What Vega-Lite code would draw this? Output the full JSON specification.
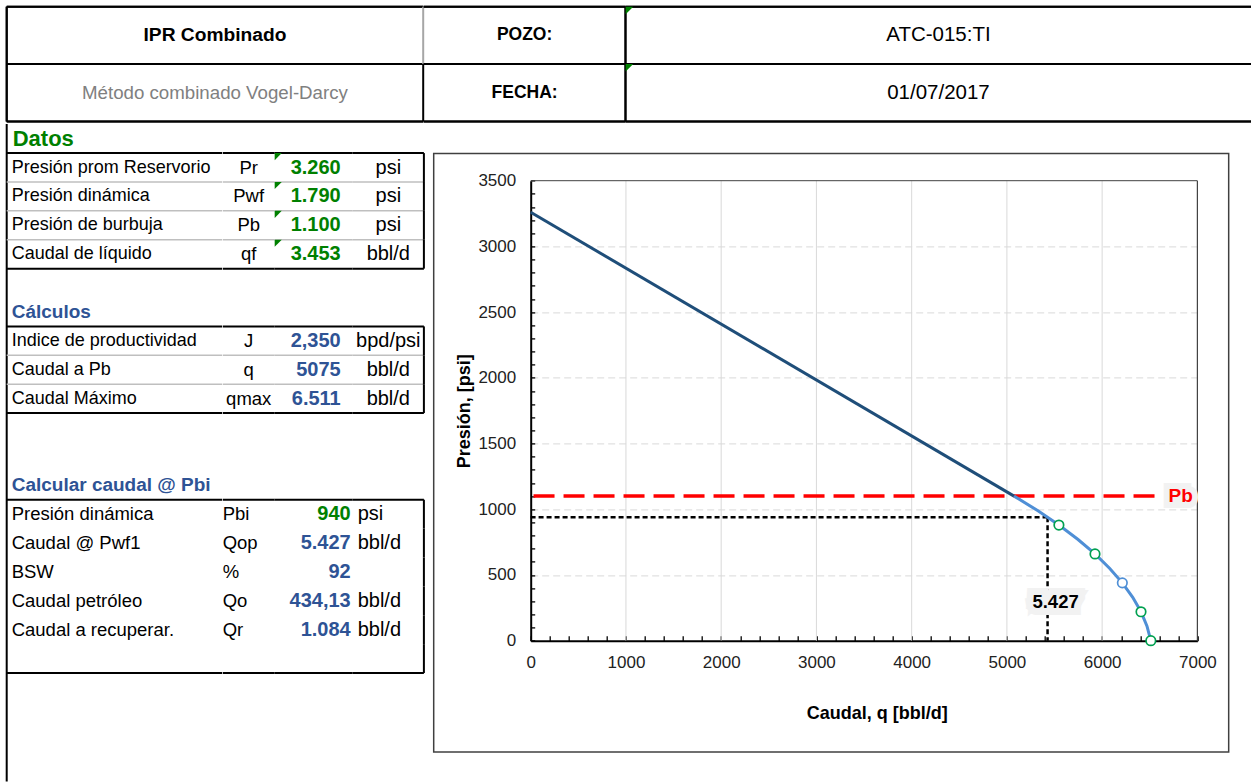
{
  "$schema": "https://vega.github.io/schema/vega-lite/v6.json",
  "padding": {"left": 5.7, "top": 5.7, "right": 0, "bottom": 0},
  "background": "white",
  "config": {"font": "Liberation Sans", "view": {"stroke": null}, "axis": {"labelOverlap": false}},
  "datasets": {
    "titulos": [
      {"fila": 1, "t": "Datos"},
      {"fila": 7, "t": "Cálculos"},
      {"fila": 13, "t": "Calcular caudal @ Pbi"}
    ],
    "datos": [
      {"fila": 2, "param": "Presión prom Reservorio", "sim": "Pr", "valor": "3.260", "unidad": "psi"},
      {"fila": 3, "param": "Presión dinámica", "sim": "Pwf", "valor": "1.790", "unidad": "psi"},
      {"fila": 4, "param": "Presión de burbuja", "sim": "Pb", "valor": "1.100", "unidad": "psi"},
      {"fila": 5, "param": "Caudal de líquido", "sim": "qf", "valor": "3.453", "unidad": "bbl/d"}
    ],
    "calculos": [
      {"fila": 8, "param": "Indice de productividad", "sim": "J", "valor": "2,350", "unidad": "bpd/psi"},
      {"fila": 9, "param": "Caudal a Pb", "sim": "q", "valor": "5075", "unidad": "bbl/d"},
      {"fila": 10, "param": "Caudal Máximo", "sim": "qmax", "valor": "6.511", "unidad": "bbl/d"}
    ],
    "pbi": [
      {"fila": 14, "param": "Presión dinámica", "sim": "Pbi", "valor": "940", "unidad": "psi", "tipo": "entrada"},
      {"fila": 15, "param": "Caudal @ Pwf1", "sim": "Qop", "valor": "5.427", "unidad": "bbl/d", "tipo": "resultado"},
      {"fila": 16, "param": "BSW", "sim": "%", "valor": "92", "unidad": "", "tipo": "resultado"},
      {"fila": 17, "param": "Caudal petróleo", "sim": "Qo", "valor": "434,13", "unidad": "bbl/d", "tipo": "resultado"},
      {"fila": 18, "param": "Caudal a recuperar.", "sim": "Qr", "valor": "1.084", "unidad": "bbl/d", "tipo": "resultado"},
      {"fila": 19, "param": "", "sim": "", "valor": "", "unidad": "", "tipo": ""}
    ],
    "ipr": [
      {"q": 0, "p": 3260, "tramo": "Darcy"},
      {"q": 5075, "p": 1100, "tramo": "Darcy"},
      {"q": 5075, "p": 1100, "tramo": "Vogel"},
      {"q": 5322, "p": 990, "tramo": "Vogel"},
      {"q": 5546, "p": 880, "tramo": "Vogel"},
      {"q": 5747, "p": 770, "tramo": "Vogel"},
      {"q": 5925, "p": 660, "tramo": "Vogel"},
      {"q": 6080, "p": 550, "tramo": "Vogel"},
      {"q": 6212, "p": 440, "tramo": "Vogel"},
      {"q": 6321, "p": 330, "tramo": "Vogel"},
      {"q": 6408, "p": 220, "tramo": "Vogel"},
      {"q": 6471, "p": 110, "tramo": "Vogel"},
      {"q": 6511, "p": 0, "tramo": "Vogel"}
    ],
    "puntos": [
      {"q": 5546, "p": 880, "serie": "Vogel"},
      {"q": 5925, "p": 660, "serie": "Vogel"},
      {"q": 6212, "p": 440, "serie": "Referencia"},
      {"q": 6408, "p": 220, "serie": "Vogel"},
      {"q": 6511, "p": 0, "serie": "Vogel"}
    ],
    "grid_q": [
      {"q": 1000, "p": 0, "p2": 3500},
      {"q": 2000, "p": 0, "p2": 3500},
      {"q": 3000, "p": 0, "p2": 3500},
      {"q": 4000, "p": 0, "p2": 3500},
      {"q": 5000, "p": 0, "p2": 3500},
      {"q": 6000, "p": 0, "p2": 3500}
    ],
    "marco_sup": [{"q": 0, "q2": 7000, "p": 3500}],
    "marco_der": [{"q": 7000, "p": 0, "p2": 3500}],
    "pb": [{"q": 6550, "q2": 0, "p": 1100, "etiqueta": "Pb"}],
    "op": [{"q": 5427, "q0": 0, "p": 940, "p0": 0, "etiqueta": "5.427"}]
  },
  "spacing": 0,
  "vconcat": [
    {
      "spacing": 0,
      "bounds": "flush",
      "hconcat": [
        {
          "width": 416.5, "height": 114.8,
          "data": {"values": [{"fila": "r1", "t": "IPR Combinado"}, {"fila": "r2", "t": "Método combinado Vogel-Darcy"}]},
          "layer": [
            {"mark": {"type": "rule", "color": "black", "strokeWidth": 2}, "encoding": {"y": {"datum": "r1", "type": "nominal", "bandPosition": 0, "scale": {"type": "band", "domain": ["r1", "r2"], "paddingInner": 0, "paddingOuter": 0}, "axis": null}}},
            {"mark": {"type": "rule", "color": "black", "strokeWidth": 2}, "encoding": {"y": {"datum": "r2", "type": "nominal", "bandPosition": 0, "scale": {"type": "band", "domain": ["r1", "r2"], "paddingInner": 0, "paddingOuter": 0}, "axis": null}}},
            {"mark": {"type": "rule", "color": "black", "strokeWidth": 2}, "encoding": {"y": {"datum": "r2", "type": "nominal", "bandPosition": 1, "scale": {"type": "band", "domain": ["r1", "r2"], "paddingInner": 0, "paddingOuter": 0}, "axis": null}}},
            {"mark": {"type": "rule", "color": "black", "strokeWidth": 2}, "encoding": {"x": {"datum": "L", "type": "nominal", "scale": {"type": "point", "domain": ["L", "R"], "padding": 0}, "axis": null}}},
            {"mark": {"type": "rule", "strokeWidth": 2}, "encoding": {
              "x": {"datum": "R", "type": "nominal", "scale": {"type": "point", "domain": ["L", "R"], "padding": 0}, "axis": null},
              "y": {"field": "fila", "type": "nominal", "bandPosition": 0, "scale": {"type": "band", "domain": ["r1", "r2"], "paddingInner": 0, "paddingOuter": 0}, "axis": null},
              "y2": {"field": "fila", "bandPosition": 1},
              "color": {"condition": {"test": "datum.fila === 'r1'", "value": "#A6A6A6"}, "value": "black"}
            }},
            {"transform": [{"filter": "datum.fila === 'r1'"}], "mark": {"type": "text", "fontSize": 19.2, "fontWeight": "bold", "color": "black"}, "encoding": {"y": {"field": "fila", "type": "nominal", "scale": {"type": "band", "domain": ["r1", "r2"], "paddingInner": 0, "paddingOuter": 0}, "axis": null}, "text": {"field": "t", "type": "nominal"}}},
            {"transform": [{"filter": "datum.fila === 'r2'"}], "mark": {"type": "text", "fontSize": 18.7, "color": "#808080"}, "encoding": {"y": {"field": "fila", "type": "nominal", "scale": {"type": "band", "domain": ["r1", "r2"], "paddingInner": 0, "paddingOuter": 0}, "axis": null}, "text": {"field": "t", "type": "nominal"}}}
          ]
        },
        {
          "width": 201.8, "height": 114.8,
          "data": {"values": [{"fila": "r1", "t": "POZO:"}, {"fila": "r2", "t": "FECHA:"}]},
          "layer": [
            {"mark": {"type": "rule", "color": "black", "strokeWidth": 2}, "encoding": {"y": {"datum": "r1", "type": "nominal", "bandPosition": 0, "scale": {"type": "band", "domain": ["r1", "r2"], "paddingInner": 0, "paddingOuter": 0}, "axis": null}}},
            {"mark": {"type": "rule", "color": "black", "strokeWidth": 2}, "encoding": {"y": {"datum": "r2", "type": "nominal", "bandPosition": 0, "scale": {"type": "band", "domain": ["r1", "r2"], "paddingInner": 0, "paddingOuter": 0}, "axis": null}}},
            {"mark": {"type": "rule", "color": "black", "strokeWidth": 2}, "encoding": {"y": {"datum": "r2", "type": "nominal", "bandPosition": 1, "scale": {"type": "band", "domain": ["r1", "r2"], "paddingInner": 0, "paddingOuter": 0}, "axis": null}}},
            {"mark": {"type": "rule", "color": "black", "strokeWidth": 2}, "encoding": {"x": {"datum": "R", "type": "nominal", "scale": {"type": "point", "domain": ["L", "R"], "padding": 0}, "axis": null}}},
            {"mark": {"type": "text", "fontSize": 17.5, "fontWeight": "bold", "color": "black"}, "encoding": {"y": {"field": "fila", "type": "nominal", "scale": {"type": "band", "domain": ["r1", "r2"], "paddingInner": 0, "paddingOuter": 0}, "axis": null}, "text": {"field": "t", "type": "nominal"}}}
          ]
        },
        {
          "width": 625.5, "height": 114.8,
          "data": {"values": [{"fila": "r1", "t": "ATC-015:TI"}, {"fila": "r2", "t": "01/07/2017"}]},
          "layer": [
            {"mark": {"type": "rule", "color": "black", "strokeWidth": 2}, "encoding": {"y": {"datum": "r1", "type": "nominal", "bandPosition": 0, "scale": {"type": "band", "domain": ["r1", "r2"], "paddingInner": 0, "paddingOuter": 0}, "axis": null}}},
            {"mark": {"type": "rule", "color": "black", "strokeWidth": 2}, "encoding": {"y": {"datum": "r2", "type": "nominal", "bandPosition": 0, "scale": {"type": "band", "domain": ["r1", "r2"], "paddingInner": 0, "paddingOuter": 0}, "axis": null}}},
            {"mark": {"type": "rule", "color": "black", "strokeWidth": 2}, "encoding": {"y": {"datum": "r2", "type": "nominal", "bandPosition": 1, "scale": {"type": "band", "domain": ["r1", "r2"], "paddingInner": 0, "paddingOuter": 0}, "axis": null}}},
            {"mark": {"type": "point", "shape": "M0,0L1,0L0,1Z", "size": 225, "filled": true, "color": "#008000", "opacity": 1, "strokeWidth": 0}, "encoding": {"x": {"datum": "L", "type": "nominal", "scale": {"type": "point", "domain": ["L", "R"], "padding": 0}, "axis": null}, "y": {"field": "fila", "type": "nominal", "bandPosition": 0, "scale": {"type": "band", "domain": ["r1", "r2"], "paddingInner": 0, "paddingOuter": 0}, "axis": null}}},
            {"mark": {"type": "text", "fontSize": 20.5, "color": "black"}, "encoding": {"y": {"field": "fila", "type": "nominal", "scale": {"type": "band", "domain": ["r1", "r2"], "paddingInner": 0, "paddingOuter": 0}, "axis": null}, "text": {"field": "t", "type": "nominal"}}}
          ]
        }
      ]
    },
    {
      "spacing": 0,
      "bounds": "flush",
      "center": true,
      "hconcat": [
        {
          "width": 215.3, "height": 657.6,
          "data": {"values": [{}]},
          "layer": [
            {"mark": {"type": "rule", "color": "black", "strokeWidth": 2}, "encoding": {"x": {"datum": "L", "type": "nominal", "scale": {"type": "point", "domain": ["L", "R"], "padding": 0}, "axis": null}}},
            {"data": {"name": "datos"}, "transform": [{"filter": "datum.fila > 2"}], "mark": {"type": "rule", "color": "#BFBFBF", "strokeWidth": 1.5}, "encoding": {"y": {"field": "fila", "type": "ordinal", "bandPosition": 0, "scale": {"type": "band", "domain": [1, 2, 3, 4, 5, 6, 7, 8, 9, 10, 11, 12, 13, 14, 15, 16, 17, 18, 19, 20, 21, 22, 23], "range": [0.3, 664.7], "paddingInner": 0, "paddingOuter": 0}, "axis": null}}},
            {"data": {"name": "calculos"}, "transform": [{"filter": "datum.fila > 8"}], "mark": {"type": "rule", "color": "#BFBFBF", "strokeWidth": 1.5}, "encoding": {"y": {"field": "fila", "type": "ordinal", "bandPosition": 0, "scale": {"type": "band", "domain": [1, 2, 3, 4, 5, 6, 7, 8, 9, 10, 11, 12, 13, 14, 15, 16, 17, 18, 19, 20, 21, 22, 23], "range": [0.3, 664.7], "paddingInner": 0, "paddingOuter": 0}, "axis": null}}},
            {"mark": {"type": "rule", "color": "black", "strokeWidth": 2}, "encoding": {"y": {"datum": 2, "type": "ordinal", "bandPosition": 0, "scale": {"type": "band", "domain": [1, 2, 3, 4, 5, 6, 7, 8, 9, 10, 11, 12, 13, 14, 15, 16, 17, 18, 19, 20, 21, 22, 23], "range": [0.3, 664.7], "paddingInner": 0, "paddingOuter": 0}, "axis": null}}},
            {"mark": {"type": "rule", "color": "black", "strokeWidth": 2}, "encoding": {"y": {"datum": 5, "type": "ordinal", "bandPosition": 1, "scale": {"type": "band", "domain": [1, 2, 3, 4, 5, 6, 7, 8, 9, 10, 11, 12, 13, 14, 15, 16, 17, 18, 19, 20, 21, 22, 23], "range": [0.3, 664.7], "paddingInner": 0, "paddingOuter": 0}, "axis": null}}},
            {"mark": {"type": "rule", "color": "black", "strokeWidth": 2}, "encoding": {"y": {"datum": 8, "type": "ordinal", "bandPosition": 0, "scale": {"type": "band", "domain": [1, 2, 3, 4, 5, 6, 7, 8, 9, 10, 11, 12, 13, 14, 15, 16, 17, 18, 19, 20, 21, 22, 23], "range": [0.3, 664.7], "paddingInner": 0, "paddingOuter": 0}, "axis": null}}},
            {"mark": {"type": "rule", "color": "black", "strokeWidth": 2}, "encoding": {"y": {"datum": 10, "type": "ordinal", "bandPosition": 1, "scale": {"type": "band", "domain": [1, 2, 3, 4, 5, 6, 7, 8, 9, 10, 11, 12, 13, 14, 15, 16, 17, 18, 19, 20, 21, 22, 23], "range": [0.3, 664.7], "paddingInner": 0, "paddingOuter": 0}, "axis": null}}},
            {"mark": {"type": "rule", "color": "black", "strokeWidth": 2}, "encoding": {"y": {"datum": 14, "type": "ordinal", "bandPosition": 0, "scale": {"type": "band", "domain": [1, 2, 3, 4, 5, 6, 7, 8, 9, 10, 11, 12, 13, 14, 15, 16, 17, 18, 19, 20, 21, 22, 23], "range": [0.3, 664.7], "paddingInner": 0, "paddingOuter": 0}, "axis": null}}},
            {"mark": {"type": "rule", "color": "black", "strokeWidth": 2}, "encoding": {"y": {"datum": 19, "type": "ordinal", "bandPosition": 1, "scale": {"type": "band", "domain": [1, 2, 3, 4, 5, 6, 7, 8, 9, 10, 11, 12, 13, 14, 15, 16, 17, 18, 19, 20, 21, 22, 23], "range": [0.3, 664.7], "paddingInner": 0, "paddingOuter": 0}, "axis": null}}},
            {"data": {"name": "titulos"}, "transform": [{"filter": "datum.fila === 1"}], "mark": {"type": "text", "align": "left", "dx": 6, "fontSize": 22, "fontWeight": "bold", "color": "#008000"}, "encoding": {"x": {"datum": "L", "type": "nominal", "scale": {"type": "point", "domain": ["L", "R"], "padding": 0}, "axis": null}, "y": {"field": "fila", "type": "ordinal", "scale": {"type": "band", "domain": [1, 2, 3, 4, 5, 6, 7, 8, 9, 10, 11, 12, 13, 14, 15, 16, 17, 18, 19, 20, 21, 22, 23], "range": [0.3, 664.7], "paddingInner": 0, "paddingOuter": 0}, "axis": null}, "text": {"field": "t", "type": "nominal"}}},
            {"data": {"name": "titulos"}, "transform": [{"filter": "datum.fila > 1"}], "mark": {"type": "text", "align": "left", "dx": 5, "fontSize": 19, "fontWeight": "bold", "color": "#2E5395"}, "encoding": {"x": {"datum": "L", "type": "nominal", "scale": {"type": "point", "domain": ["L", "R"], "padding": 0}, "axis": null}, "y": {"field": "fila", "type": "ordinal", "scale": {"type": "band", "domain": [1, 2, 3, 4, 5, 6, 7, 8, 9, 10, 11, 12, 13, 14, 15, 16, 17, 18, 19, 20, 21, 22, 23], "range": [0.3, 664.7], "paddingInner": 0, "paddingOuter": 0}, "axis": null}, "text": {"field": "t", "type": "nominal"}}},
            {"data": {"name": "datos"}, "mark": {"type": "text", "align": "left", "dx": 5, "fontSize": 18, "color": "black"}, "encoding": {"x": {"datum": "L", "type": "nominal", "scale": {"type": "point", "domain": ["L", "R"], "padding": 0}, "axis": null}, "y": {"field": "fila", "type": "ordinal", "scale": {"type": "band", "domain": [1, 2, 3, 4, 5, 6, 7, 8, 9, 10, 11, 12, 13, 14, 15, 16, 17, 18, 19, 20, 21, 22, 23], "range": [0.3, 664.7], "paddingInner": 0, "paddingOuter": 0}, "axis": null}, "text": {"field": "param", "type": "nominal"}}},
            {"data": {"name": "calculos"}, "mark": {"type": "text", "align": "left", "dx": 5, "fontSize": 18, "color": "black"}, "encoding": {"x": {"datum": "L", "type": "nominal", "scale": {"type": "point", "domain": ["L", "R"], "padding": 0}, "axis": null}, "y": {"field": "fila", "type": "ordinal", "scale": {"type": "band", "domain": [1, 2, 3, 4, 5, 6, 7, 8, 9, 10, 11, 12, 13, 14, 15, 16, 17, 18, 19, 20, 21, 22, 23], "range": [0.3, 664.7], "paddingInner": 0, "paddingOuter": 0}, "axis": null}, "text": {"field": "param", "type": "nominal"}}},
            {"data": {"name": "pbi"}, "mark": {"type": "text", "align": "left", "dx": 5, "fontSize": 18.5, "color": "black"}, "encoding": {"x": {"datum": "L", "type": "nominal", "scale": {"type": "point", "domain": ["L", "R"], "padding": 0}, "axis": null}, "y": {"field": "fila", "type": "ordinal", "scale": {"type": "band", "domain": [1, 2, 3, 4, 5, 6, 7, 8, 9, 10, 11, 12, 13, 14, 15, 16, 17, 18, 19, 20, 21, 22, 23], "range": [0.3, 664.7], "paddingInner": 0, "paddingOuter": 0}, "axis": null}, "text": {"field": "param", "type": "nominal"}}}
          ]
        },
        {
          "width": 52, "height": 657.6,
          "data": {"values": [{}]},
          "layer": [
            {"data": {"name": "datos"}, "transform": [{"filter": "datum.fila > 2"}], "mark": {"type": "rule", "color": "#BFBFBF", "strokeWidth": 1.5}, "encoding": {"y": {"field": "fila", "type": "ordinal", "bandPosition": 0, "scale": {"type": "band", "domain": [1, 2, 3, 4, 5, 6, 7, 8, 9, 10, 11, 12, 13, 14, 15, 16, 17, 18, 19, 20, 21, 22, 23], "range": [0.3, 664.7], "paddingInner": 0, "paddingOuter": 0}, "axis": null}}},
            {"data": {"name": "calculos"}, "transform": [{"filter": "datum.fila > 8"}], "mark": {"type": "rule", "color": "#BFBFBF", "strokeWidth": 1.5}, "encoding": {"y": {"field": "fila", "type": "ordinal", "bandPosition": 0, "scale": {"type": "band", "domain": [1, 2, 3, 4, 5, 6, 7, 8, 9, 10, 11, 12, 13, 14, 15, 16, 17, 18, 19, 20, 21, 22, 23], "range": [0.3, 664.7], "paddingInner": 0, "paddingOuter": 0}, "axis": null}}},
            {"mark": {"type": "rule", "color": "black", "strokeWidth": 2}, "encoding": {"y": {"datum": 2, "type": "ordinal", "bandPosition": 0, "scale": {"type": "band", "domain": [1, 2, 3, 4, 5, 6, 7, 8, 9, 10, 11, 12, 13, 14, 15, 16, 17, 18, 19, 20, 21, 22, 23], "range": [0.3, 664.7], "paddingInner": 0, "paddingOuter": 0}, "axis": null}}},
            {"mark": {"type": "rule", "color": "black", "strokeWidth": 2}, "encoding": {"y": {"datum": 5, "type": "ordinal", "bandPosition": 1, "scale": {"type": "band", "domain": [1, 2, 3, 4, 5, 6, 7, 8, 9, 10, 11, 12, 13, 14, 15, 16, 17, 18, 19, 20, 21, 22, 23], "range": [0.3, 664.7], "paddingInner": 0, "paddingOuter": 0}, "axis": null}}},
            {"mark": {"type": "rule", "color": "black", "strokeWidth": 2}, "encoding": {"y": {"datum": 8, "type": "ordinal", "bandPosition": 0, "scale": {"type": "band", "domain": [1, 2, 3, 4, 5, 6, 7, 8, 9, 10, 11, 12, 13, 14, 15, 16, 17, 18, 19, 20, 21, 22, 23], "range": [0.3, 664.7], "paddingInner": 0, "paddingOuter": 0}, "axis": null}}},
            {"mark": {"type": "rule", "color": "black", "strokeWidth": 2}, "encoding": {"y": {"datum": 10, "type": "ordinal", "bandPosition": 1, "scale": {"type": "band", "domain": [1, 2, 3, 4, 5, 6, 7, 8, 9, 10, 11, 12, 13, 14, 15, 16, 17, 18, 19, 20, 21, 22, 23], "range": [0.3, 664.7], "paddingInner": 0, "paddingOuter": 0}, "axis": null}}},
            {"mark": {"type": "rule", "color": "black", "strokeWidth": 2}, "encoding": {"y": {"datum": 14, "type": "ordinal", "bandPosition": 0, "scale": {"type": "band", "domain": [1, 2, 3, 4, 5, 6, 7, 8, 9, 10, 11, 12, 13, 14, 15, 16, 17, 18, 19, 20, 21, 22, 23], "range": [0.3, 664.7], "paddingInner": 0, "paddingOuter": 0}, "axis": null}}},
            {"mark": {"type": "rule", "color": "black", "strokeWidth": 2}, "encoding": {"y": {"datum": 19, "type": "ordinal", "bandPosition": 1, "scale": {"type": "band", "domain": [1, 2, 3, 4, 5, 6, 7, 8, 9, 10, 11, 12, 13, 14, 15, 16, 17, 18, 19, 20, 21, 22, 23], "range": [0.3, 664.7], "paddingInner": 0, "paddingOuter": 0}, "axis": null}}},
            {"data": {"name": "datos"}, "mark": {"type": "text", "fontSize": 18.5, "color": "black"}, "encoding": {"y": {"field": "fila", "type": "ordinal", "scale": {"type": "band", "domain": [1, 2, 3, 4, 5, 6, 7, 8, 9, 10, 11, 12, 13, 14, 15, 16, 17, 18, 19, 20, 21, 22, 23], "range": [0.3, 664.7], "paddingInner": 0, "paddingOuter": 0}, "axis": null}, "text": {"field": "sim", "type": "nominal"}}},
            {"data": {"name": "calculos"}, "mark": {"type": "text", "fontSize": 18.5, "color": "black"}, "encoding": {"y": {"field": "fila", "type": "ordinal", "scale": {"type": "band", "domain": [1, 2, 3, 4, 5, 6, 7, 8, 9, 10, 11, 12, 13, 14, 15, 16, 17, 18, 19, 20, 21, 22, 23], "range": [0.3, 664.7], "paddingInner": 0, "paddingOuter": 0}, "axis": null}, "text": {"field": "sim", "type": "nominal"}}},
            {"data": {"name": "pbi"}, "mark": {"type": "text", "align": "left", "fontSize": 18.5, "color": "black"}, "encoding": {"x": {"datum": "L", "type": "nominal", "scale": {"type": "point", "domain": ["L", "R"], "padding": 0}, "axis": null}, "y": {"field": "fila", "type": "ordinal", "scale": {"type": "band", "domain": [1, 2, 3, 4, 5, 6, 7, 8, 9, 10, 11, 12, 13, 14, 15, 16, 17, 18, 19, 20, 21, 22, 23], "range": [0.3, 664.7], "paddingInner": 0, "paddingOuter": 0}, "axis": null}, "text": {"field": "sim", "type": "nominal"}}}
          ]
        },
        {
          "width": 78, "height": 657.6,
          "data": {"values": [{}]},
          "layer": [
            {"data": {"name": "datos"}, "transform": [{"filter": "datum.fila > 2"}], "mark": {"type": "rule", "color": "#BFBFBF", "strokeWidth": 1.5}, "encoding": {"y": {"field": "fila", "type": "ordinal", "bandPosition": 0, "scale": {"type": "band", "domain": [1, 2, 3, 4, 5, 6, 7, 8, 9, 10, 11, 12, 13, 14, 15, 16, 17, 18, 19, 20, 21, 22, 23], "range": [0.3, 664.7], "paddingInner": 0, "paddingOuter": 0}, "axis": null}}},
            {"data": {"name": "calculos"}, "transform": [{"filter": "datum.fila > 8"}], "mark": {"type": "rule", "color": "#BFBFBF", "strokeWidth": 1.5}, "encoding": {"y": {"field": "fila", "type": "ordinal", "bandPosition": 0, "scale": {"type": "band", "domain": [1, 2, 3, 4, 5, 6, 7, 8, 9, 10, 11, 12, 13, 14, 15, 16, 17, 18, 19, 20, 21, 22, 23], "range": [0.3, 664.7], "paddingInner": 0, "paddingOuter": 0}, "axis": null}}},
            {"mark": {"type": "rule", "color": "black", "strokeWidth": 2}, "encoding": {"y": {"datum": 2, "type": "ordinal", "bandPosition": 0, "scale": {"type": "band", "domain": [1, 2, 3, 4, 5, 6, 7, 8, 9, 10, 11, 12, 13, 14, 15, 16, 17, 18, 19, 20, 21, 22, 23], "range": [0.3, 664.7], "paddingInner": 0, "paddingOuter": 0}, "axis": null}}},
            {"mark": {"type": "rule", "color": "black", "strokeWidth": 2}, "encoding": {"y": {"datum": 5, "type": "ordinal", "bandPosition": 1, "scale": {"type": "band", "domain": [1, 2, 3, 4, 5, 6, 7, 8, 9, 10, 11, 12, 13, 14, 15, 16, 17, 18, 19, 20, 21, 22, 23], "range": [0.3, 664.7], "paddingInner": 0, "paddingOuter": 0}, "axis": null}}},
            {"mark": {"type": "rule", "color": "black", "strokeWidth": 2}, "encoding": {"y": {"datum": 8, "type": "ordinal", "bandPosition": 0, "scale": {"type": "band", "domain": [1, 2, 3, 4, 5, 6, 7, 8, 9, 10, 11, 12, 13, 14, 15, 16, 17, 18, 19, 20, 21, 22, 23], "range": [0.3, 664.7], "paddingInner": 0, "paddingOuter": 0}, "axis": null}}},
            {"mark": {"type": "rule", "color": "black", "strokeWidth": 2}, "encoding": {"y": {"datum": 10, "type": "ordinal", "bandPosition": 1, "scale": {"type": "band", "domain": [1, 2, 3, 4, 5, 6, 7, 8, 9, 10, 11, 12, 13, 14, 15, 16, 17, 18, 19, 20, 21, 22, 23], "range": [0.3, 664.7], "paddingInner": 0, "paddingOuter": 0}, "axis": null}}},
            {"mark": {"type": "rule", "color": "black", "strokeWidth": 2}, "encoding": {"y": {"datum": 14, "type": "ordinal", "bandPosition": 0, "scale": {"type": "band", "domain": [1, 2, 3, 4, 5, 6, 7, 8, 9, 10, 11, 12, 13, 14, 15, 16, 17, 18, 19, 20, 21, 22, 23], "range": [0.3, 664.7], "paddingInner": 0, "paddingOuter": 0}, "axis": null}}},
            {"mark": {"type": "rule", "color": "black", "strokeWidth": 2}, "encoding": {"y": {"datum": 19, "type": "ordinal", "bandPosition": 1, "scale": {"type": "band", "domain": [1, 2, 3, 4, 5, 6, 7, 8, 9, 10, 11, 12, 13, 14, 15, 16, 17, 18, 19, 20, 21, 22, 23], "range": [0.3, 664.7], "paddingInner": 0, "paddingOuter": 0}, "axis": null}}},
            {"data": {"name": "datos"}, "mark": {"type": "point", "shape": "M0,0L1,0L0,1Z", "size": 200, "filled": true, "color": "#008000", "opacity": 1, "strokeWidth": 0}, "encoding": {"x": {"datum": "L", "type": "nominal", "scale": {"type": "point", "domain": ["L", "R"], "padding": 0}, "axis": null}, "y": {"field": "fila", "type": "ordinal", "bandPosition": 0, "scale": {"type": "band", "domain": [1, 2, 3, 4, 5, 6, 7, 8, 9, 10, 11, 12, 13, 14, 15, 16, 17, 18, 19, 20, 21, 22, 23], "range": [0.3, 664.7], "paddingInner": 0, "paddingOuter": 0}, "axis": null}}},
            {"data": {"name": "datos"}, "mark": {"type": "text", "align": "right", "dx": -12, "fontSize": 20, "fontWeight": "bold", "color": "#008000"}, "encoding": {"x": {"datum": "R", "type": "nominal", "scale": {"type": "point", "domain": ["L", "R"], "padding": 0}, "axis": null}, "y": {"field": "fila", "type": "ordinal", "scale": {"type": "band", "domain": [1, 2, 3, 4, 5, 6, 7, 8, 9, 10, 11, 12, 13, 14, 15, 16, 17, 18, 19, 20, 21, 22, 23], "range": [0.3, 664.7], "paddingInner": 0, "paddingOuter": 0}, "axis": null}, "text": {"field": "valor", "type": "nominal"}}},
            {"data": {"name": "calculos"}, "mark": {"type": "text", "align": "right", "dx": -12, "fontSize": 20, "fontWeight": "bold", "color": "#2E5395"}, "encoding": {"x": {"datum": "R", "type": "nominal", "scale": {"type": "point", "domain": ["L", "R"], "padding": 0}, "axis": null}, "y": {"field": "fila", "type": "ordinal", "scale": {"type": "band", "domain": [1, 2, 3, 4, 5, 6, 7, 8, 9, 10, 11, 12, 13, 14, 15, 16, 17, 18, 19, 20, 21, 22, 23], "range": [0.3, 664.7], "paddingInner": 0, "paddingOuter": 0}, "axis": null}, "text": {"field": "valor", "type": "nominal"}}},
            {"data": {"name": "pbi"}, "mark": {"type": "text", "align": "right", "dx": -2, "fontSize": 20, "fontWeight": "bold"}, "encoding": {"x": {"datum": "R", "type": "nominal", "scale": {"type": "point", "domain": ["L", "R"], "padding": 0}, "axis": null}, "y": {"field": "fila", "type": "ordinal", "scale": {"type": "band", "domain": [1, 2, 3, 4, 5, 6, 7, 8, 9, 10, 11, 12, 13, 14, 15, 16, 17, 18, 19, 20, 21, 22, 23], "range": [0.3, 664.7], "paddingInner": 0, "paddingOuter": 0}, "axis": null}, "text": {"field": "valor", "type": "nominal"}, "color": {"condition": {"test": "datum.tipo === 'entrada'", "value": "#008000"}, "value": "#2E5395"}}}
          ]
        },
        {
          "width": 71.2, "height": 657.6,
          "data": {"values": [{}]},
          "layer": [
            {"data": {"name": "datos"}, "transform": [{"filter": "datum.fila > 2"}], "mark": {"type": "rule", "color": "#BFBFBF", "strokeWidth": 1.5}, "encoding": {"y": {"field": "fila", "type": "ordinal", "bandPosition": 0, "scale": {"type": "band", "domain": [1, 2, 3, 4, 5, 6, 7, 8, 9, 10, 11, 12, 13, 14, 15, 16, 17, 18, 19, 20, 21, 22, 23], "range": [0.3, 664.7], "paddingInner": 0, "paddingOuter": 0}, "axis": null}}},
            {"data": {"name": "calculos"}, "transform": [{"filter": "datum.fila > 8"}], "mark": {"type": "rule", "color": "#BFBFBF", "strokeWidth": 1.5}, "encoding": {"y": {"field": "fila", "type": "ordinal", "bandPosition": 0, "scale": {"type": "band", "domain": [1, 2, 3, 4, 5, 6, 7, 8, 9, 10, 11, 12, 13, 14, 15, 16, 17, 18, 19, 20, 21, 22, 23], "range": [0.3, 664.7], "paddingInner": 0, "paddingOuter": 0}, "axis": null}}},
            {"mark": {"type": "rule", "color": "black", "strokeWidth": 2}, "encoding": {"y": {"datum": 2, "type": "ordinal", "bandPosition": 0, "scale": {"type": "band", "domain": [1, 2, 3, 4, 5, 6, 7, 8, 9, 10, 11, 12, 13, 14, 15, 16, 17, 18, 19, 20, 21, 22, 23], "range": [0.3, 664.7], "paddingInner": 0, "paddingOuter": 0}, "axis": null}}},
            {"mark": {"type": "rule", "color": "black", "strokeWidth": 2}, "encoding": {"y": {"datum": 5, "type": "ordinal", "bandPosition": 1, "scale": {"type": "band", "domain": [1, 2, 3, 4, 5, 6, 7, 8, 9, 10, 11, 12, 13, 14, 15, 16, 17, 18, 19, 20, 21, 22, 23], "range": [0.3, 664.7], "paddingInner": 0, "paddingOuter": 0}, "axis": null}}},
            {"mark": {"type": "rule", "color": "black", "strokeWidth": 2}, "encoding": {"y": {"datum": 8, "type": "ordinal", "bandPosition": 0, "scale": {"type": "band", "domain": [1, 2, 3, 4, 5, 6, 7, 8, 9, 10, 11, 12, 13, 14, 15, 16, 17, 18, 19, 20, 21, 22, 23], "range": [0.3, 664.7], "paddingInner": 0, "paddingOuter": 0}, "axis": null}}},
            {"mark": {"type": "rule", "color": "black", "strokeWidth": 2}, "encoding": {"y": {"datum": 10, "type": "ordinal", "bandPosition": 1, "scale": {"type": "band", "domain": [1, 2, 3, 4, 5, 6, 7, 8, 9, 10, 11, 12, 13, 14, 15, 16, 17, 18, 19, 20, 21, 22, 23], "range": [0.3, 664.7], "paddingInner": 0, "paddingOuter": 0}, "axis": null}}},
            {"mark": {"type": "rule", "color": "black", "strokeWidth": 2}, "encoding": {"y": {"datum": 14, "type": "ordinal", "bandPosition": 0, "scale": {"type": "band", "domain": [1, 2, 3, 4, 5, 6, 7, 8, 9, 10, 11, 12, 13, 14, 15, 16, 17, 18, 19, 20, 21, 22, 23], "range": [0.3, 664.7], "paddingInner": 0, "paddingOuter": 0}, "axis": null}}},
            {"mark": {"type": "rule", "color": "black", "strokeWidth": 2}, "encoding": {"y": {"datum": 19, "type": "ordinal", "bandPosition": 1, "scale": {"type": "band", "domain": [1, 2, 3, 4, 5, 6, 7, 8, 9, 10, 11, 12, 13, 14, 15, 16, 17, 18, 19, 20, 21, 22, 23], "range": [0.3, 664.7], "paddingInner": 0, "paddingOuter": 0}, "axis": null}}},
            {"data": {"name": "datos"}, "mark": {"type": "rule", "color": "black", "strokeWidth": 2}, "encoding": {"x": {"datum": "R", "type": "nominal", "scale": {"type": "point", "domain": ["L", "R"], "padding": 0}, "axis": null}, "y": {"field": "fila", "type": "ordinal", "bandPosition": 0, "scale": {"type": "band", "domain": [1, 2, 3, 4, 5, 6, 7, 8, 9, 10, 11, 12, 13, 14, 15, 16, 17, 18, 19, 20, 21, 22, 23], "range": [0.3, 664.7], "paddingInner": 0, "paddingOuter": 0}, "axis": null}, "y2": {"field": "fila", "bandPosition": 1}}},
            {"data": {"name": "calculos"}, "mark": {"type": "rule", "color": "black", "strokeWidth": 2}, "encoding": {"x": {"datum": "R", "type": "nominal", "scale": {"type": "point", "domain": ["L", "R"], "padding": 0}, "axis": null}, "y": {"field": "fila", "type": "ordinal", "bandPosition": 0, "scale": {"type": "band", "domain": [1, 2, 3, 4, 5, 6, 7, 8, 9, 10, 11, 12, 13, 14, 15, 16, 17, 18, 19, 20, 21, 22, 23], "range": [0.3, 664.7], "paddingInner": 0, "paddingOuter": 0}, "axis": null}, "y2": {"field": "fila", "bandPosition": 1}}},
            {"data": {"name": "pbi"}, "mark": {"type": "rule", "color": "black", "strokeWidth": 2}, "encoding": {"x": {"datum": "R", "type": "nominal", "scale": {"type": "point", "domain": ["L", "R"], "padding": 0}, "axis": null}, "y": {"field": "fila", "type": "ordinal", "bandPosition": 0, "scale": {"type": "band", "domain": [1, 2, 3, 4, 5, 6, 7, 8, 9, 10, 11, 12, 13, 14, 15, 16, 17, 18, 19, 20, 21, 22, 23], "range": [0.3, 664.7], "paddingInner": 0, "paddingOuter": 0}, "axis": null}, "y2": {"field": "fila", "bandPosition": 1}}},
            {"data": {"name": "datos"}, "mark": {"type": "text", "fontSize": 20, "color": "black"}, "encoding": {"y": {"field": "fila", "type": "ordinal", "scale": {"type": "band", "domain": [1, 2, 3, 4, 5, 6, 7, 8, 9, 10, 11, 12, 13, 14, 15, 16, 17, 18, 19, 20, 21, 22, 23], "range": [0.3, 664.7], "paddingInner": 0, "paddingOuter": 0}, "axis": null}, "text": {"field": "unidad", "type": "nominal"}}},
            {"data": {"name": "calculos"}, "mark": {"type": "text", "fontSize": 20, "color": "black"}, "encoding": {"y": {"field": "fila", "type": "ordinal", "scale": {"type": "band", "domain": [1, 2, 3, 4, 5, 6, 7, 8, 9, 10, 11, 12, 13, 14, 15, 16, 17, 18, 19, 20, 21, 22, 23], "range": [0.3, 664.7], "paddingInner": 0, "paddingOuter": 0}, "axis": null}, "text": {"field": "unidad", "type": "nominal"}}},
            {"data": {"name": "pbi"}, "mark": {"type": "text", "align": "left", "dx": 5, "fontSize": 20, "color": "black"}, "encoding": {"x": {"datum": "L", "type": "nominal", "scale": {"type": "point", "domain": ["L", "R"], "padding": 0}, "axis": null}, "y": {"field": "fila", "type": "ordinal", "scale": {"type": "band", "domain": [1, 2, 3, 4, 5, 6, 7, 8, 9, 10, 11, 12, 13, 14, 15, 16, 17, 18, 19, 20, 21, 22, 23], "range": [0.3, 664.7], "paddingInner": 0, "paddingOuter": 0}, "axis": null}, "text": {"field": "unidad", "type": "nominal"}}}
          ]
        },
        {
          "width": 8.8, "height": 657.6,
          "data": {"values": [{}]},
          "mark": {"type": "rule", "opacity": 0},
          "encoding": {"x": {"datum": "L", "type": "nominal", "scale": {"type": "point", "domain": ["L", "R"], "padding": 0}, "axis": null}}
        },
        {
          "width": 795, "height": 598.6,
          "view": {"stroke": "#404040", "strokeWidth": 1.5},
          "encoding": {
            "x": {
              "field": "q", "type": "quantitative",
              "scale": {"domain": [0, 7000], "range": [97, 763.7], "nice": false},
              "axis": {
                "values": [0, 200, 400, 600, 800, 1000, 1200, 1400, 1600, 1800, 2000, 2200, 2400, 2600, 2800, 3000, 3200, 3400, 3600, 3800, 4000, 4200, 4400, 4600, 4800, 5000, 5200, 5400, 5600, 5800, 6000, 6200, 6400, 6600, 6800, 7000],
                "format": "d",
                "labelExpr": "datum.value % 1000 === 0 ? datum.label : ''",
                "labelOverlap": false,
                "labelFlush": false,
                "offset": -111.3,
                "tickSize": -5,
                "tickColor": "black",
                "tickWidth": 1.3,
                "domainColor": "black",
                "domainWidth": 2,
                "labelPadding": 19,
                "labelFontSize": 17,
                "labelColor": "#222222",
                "grid": false,
                "title": "Caudal, q [bbl/d]",
                "titleFontSize": 18,
                "titleFontWeight": "bold",
                "titleColor": "black",
                "titlePadding": 34,
                "titleX": 443
              }
            },
            "y": {
              "field": "p", "type": "quantitative",
              "scale": {"domain": [0, 3500], "range": [487.3, 27.3], "nice": false},
              "axis": {
                "values": [0, 100, 200, 300, 400, 500, 600, 700, 800, 900, 1000, 1100, 1200, 1300, 1400, 1500, 1600, 1700, 1800, 1900, 2000, 2100, 2200, 2300, 2400, 2500, 2600, 2700, 2800, 2900, 3000, 3100, 3200, 3300, 3400, 3500],
                "format": "d",
                "labelExpr": "datum.value % 500 === 0 ? datum.label : ''",
                "labelOverlap": false,
                "labelFlush": false,
                "offset": -97,
                "tickSize": -4,
                "tickColor": "black",
                "tickWidth": 1.3,
                "domainColor": "black",
                "domainWidth": 2,
                "labelPadding": 19,
                "labelFontSize": 17,
                "labelColor": "#222222",
                "grid": true,
                "gridColor": "#D9D9D9",
                "gridWidth": 1,
                "gridDash": [7, 4],
                "gridOpacity": {"condition": {"test": "datum.value % 500 === 0 && datum.value > 0 && datum.value < 3500", "value": 1}, "value": 0},
                "title": "Presión, [psi]",
                "titleFontSize": 18,
                "titleFontWeight": "bold",
                "titleColor": "black",
                "titlePadding": 4
              }
            }
          },
          "layer": [
            {"data": {"name": "grid_q"}, "mark": {"type": "rule", "color": "#D9D9D9", "strokeWidth": 1}, "encoding": {"y2": {"field": "p2"}}},
            {"data": {"name": "marco_sup"}, "mark": {"type": "rule", "color": "#404040", "strokeWidth": 1}, "encoding": {"x2": {"field": "q2"}}},
            {"data": {"name": "marco_der"}, "mark": {"type": "rule", "color": "#404040", "strokeWidth": 1.2}, "encoding": {"y2": {"field": "p2"}}},
            {"data": {"name": "pb"}, "mark": {"type": "rule", "color": "#FF0000", "strokeWidth": 3.5, "strokeDash": [21, 9]}, "encoding": {"x2": {"field": "q2"}}},
            {"data": {"name": "op"}, "mark": {"type": "rule", "color": "black", "strokeWidth": 2.5, "strokeDash": [5, 3]}, "encoding": {"x2": {"field": "q0"}}},
            {"data": {"name": "op"}, "mark": {"type": "rule", "color": "black", "strokeWidth": 2.5, "strokeDash": [5, 3]}, "encoding": {"y2": {"field": "p0"}}},
            {"data": {"name": "ipr"}, "mark": {"type": "line", "strokeWidth": 3}, "encoding": {"color": {"field": "tramo", "type": "nominal", "scale": {"domain": ["Darcy", "Vogel"], "range": ["#1F4E79", "#4F8FD6"]}, "legend": null}}},
            {"data": {"name": "puntos"}, "mark": {"type": "point", "shape": "circle", "size": 90, "filled": true, "fill": "white", "strokeWidth": 1.7, "opacity": 1}, "encoding": {"stroke": {"field": "serie", "type": "nominal", "scale": {"domain": ["Vogel", "Referencia"], "range": ["#00A050", "#4F8FD6"]}, "legend": null}}},
            {"data": {"name": "pb"}, "mark": {"type": "text", "color": "#F2F2F2", "stroke": "#F2F2F2", "strokeWidth": 12, "strokeJoin": "miter", "fontSize": 19, "fontWeight": "bold", "align": "left", "dx": 14}, "encoding": {"text": {"field": "etiqueta", "type": "nominal"}}},
            {"data": {"name": "pb"}, "mark": {"type": "text", "color": "#FF0000", "fontSize": 19, "fontWeight": "bold", "align": "left", "dx": 14}, "encoding": {"text": {"field": "etiqueta", "type": "nominal"}}},
            {"data": {"name": "op"}, "mark": {"type": "text", "color": "#F2F2F2", "stroke": "#F2F2F2", "strokeWidth": 14, "strokeJoin": "miter", "fontSize": 18.5, "fontWeight": "bold", "dx": 8, "dy": 84.7}, "encoding": {"text": {"field": "etiqueta", "type": "nominal"}}},
            {"data": {"name": "op"}, "mark": {"type": "text", "color": "black", "fontSize": 18.5, "fontWeight": "bold", "dx": 8, "dy": 84.7}, "encoding": {"text": {"field": "etiqueta", "type": "nominal"}}}
          ]
        }
      ]
    }
  ]
}
